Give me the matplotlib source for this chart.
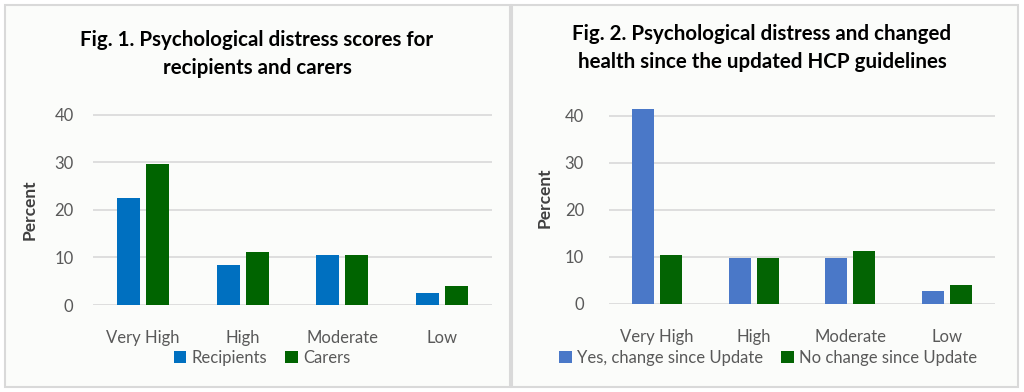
import matplotlib.pyplot as plt
import numpy as np
from matplotlib.patches import Rectangle

plt.rcParams['font.family'] = ['Lato', 'DejaVu Sans']

categories = ['Very High', 'High', 'Moderate', 'Low']

recipients = [22.4, 8.3, 10.4, 2.6]
carers = [29.6, 11.1, 10.4, 4.0]

yes_change = [41.4, 9.8, 9.8, 2.75]
no_change = [10.4, 9.8, 11.25, 4.0]

W, H = 1024, 392
fig = plt.figure(figsize=(W / 100, H / 100), dpi=100)
fig.patch.set_facecolor('white')

# panel frames (behind the axes)
for x0, x1 in [(5, 510), (512, 1018)]:
    fig.patches.append(Rectangle((x0 / W, 5 / H), (x1 - x0) / W, 382 / H,
                                 transform=fig.transFigure, facecolor='#fbfcfa',
                                 edgecolor='#d9d9d9', linewidth=1.5, zorder=-10))

tick_col = '#595959'


def panel(left, right, y0, y40, s1, s2, c1, c2, labels, title, tx, ty, ylx, yly, pad, lx):
    unit = (y0 - y40) / 40.0
    top = y0 - 42 * unit
    ax = fig.add_axes([left / W, (H - y0) / H, (right - left) / W, (y0 - top) / H])
    ax.set_facecolor('none')
    x = np.arange(len(categories))
    w = 0.23
    b1 = ax.bar(x - 0.145, s1, w, color=c1, label=labels[0], zorder=3)
    b2 = ax.bar(x + 0.145, s2, w, color=c2, label=labels[1], zorder=3)
    ax.set_xlim(-0.5, 3.5)
    ax.set_ylim(0, 42)
    ax.set_yticks([0, 10, 20, 30, 40])
    ax.set_xticks(x)
    ax.set_xticklabels(categories)
    ax.yaxis.grid(True, color='#d9d9d9', linewidth=1.2, zorder=0)
    for s in ax.spines.values():
        s.set_visible(False)
    ax.tick_params(length=0, labelsize=12, labelcolor=tick_col)
    ax.tick_params(axis='y', pad=pad)
    ax.tick_params(axis='x', pad=18)
    fig.text(ylx / W, 1 - yly / H, 'Percent', rotation=90, ha='center', va='center',
             fontsize=12.5, fontweight='bold', color='#404040')
    fig.text(tx / W, 1 - ty / H, title, ha='center', va='center', fontsize=14.8,
             fontweight='bold', color='black', linespacing=1.55)
    leg = fig.legend([b1, b2], labels, loc='center', bbox_to_anchor=(lx / W, 1 - 358 / H),
                     ncol=2, frameon=False, fontsize=12, handlelength=0.75,
                     handleheight=0.75, handletextpad=0.3, columnspacing=1.1)
    for t in leg.get_texts():
        t.set_color(tick_col)
    return ax


panel(93, 492, 305, 114.5, recipients, carers, '#0070c0', '#006400',
      ['Recipients', 'Carers'],
      'Fig. 1. Psychological distress scores for\nrecipients and carers',
      257, 54, 30, 210, 14, 262)

panel(609, 995, 304, 115.7, yes_change, no_change, '#4a78c8', '#036403',
      ['Yes, change since Update', 'No change since Update'],
      'Fig. 2. Psychological distress and changed\nhealth since the updated HCP guidelines',
      762, 48, 545, 198, 18, 768)

fig.savefig('out.png', dpi=100, facecolor='white')
